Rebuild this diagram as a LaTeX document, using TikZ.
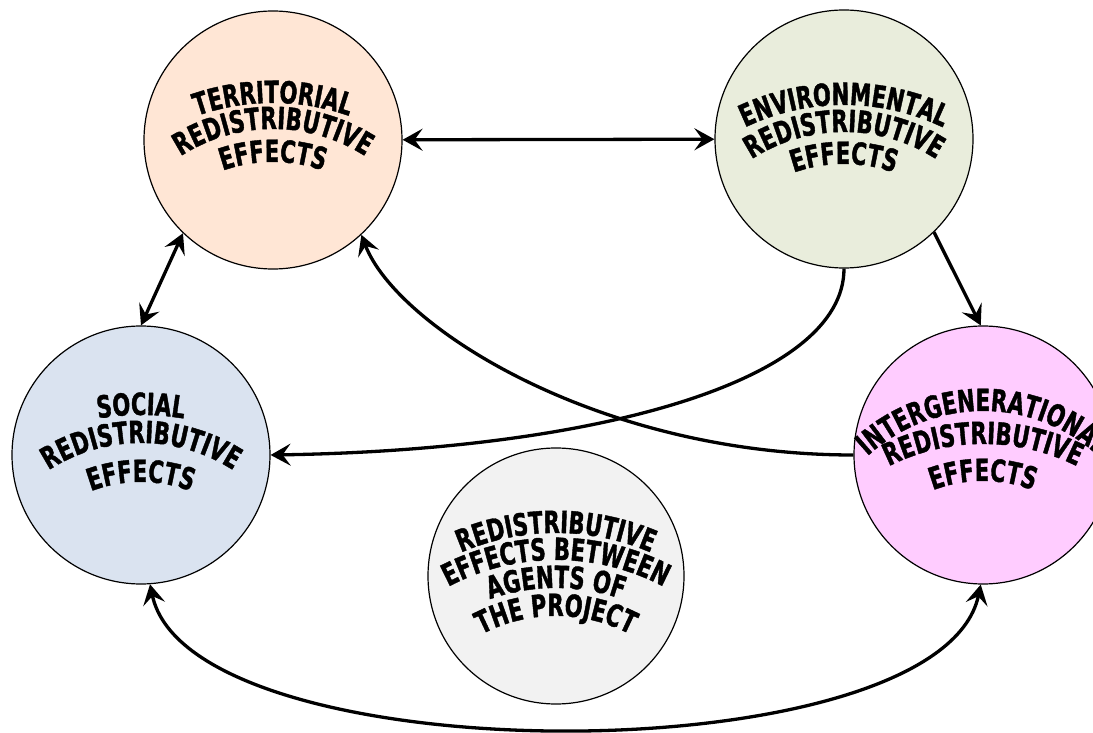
\documentclass[tikz,border=0pt]{standalone}
\usepackage{fontspec}
\newfontfamily\lblfam{DejaVu Sans Bold}[FakeStretch=0.69,FakeBold=1.3]
\usetikzlibrary{arrows.meta,calc,decorations.text}
\definecolor{cterr}{HTML}{FFE6D5}
\definecolor{cenv}{HTML}{E9EDDC}
\definecolor{csoc}{HTML}{DAE3F0}
\definecolor{cint}{HTML}{FFCCFF}
\definecolor{cagt}{HTML}{F2F2F2}
\newcommand{\lblfont}{\lblfam\fontsize{30.5}{34}\selectfont}
% #1 node, #2 apex offset (up), #3 radius, #4 text
\newcommand{\ArcLbl}[4]{%
  \path[decorate, decoration={text along path, text align=center, text={|\lblfont|#4}}]
    ($(#1)+(0,#2)+(0,-#3)+(165:#3)$) arc[start angle=165, end angle=15, radius=#3];
}
\tikzset{
  bub/.style={circle, draw=black, line width=1.2pt, minimum size=258pt, inner sep=0pt},
  conn/.style={line width=3.3pt, draw=black},
  >={Stealth[length=20pt,width=22pt,inset=8pt]},
}
\begin{document}
\begin{tikzpicture}[x=1pt,y=1pt]
\useasboundingbox (0,0) rectangle (1093,732);
\clip (0,0) rectangle (1093,732);
\fill[white] (0,0) rectangle (1093,732);
\node[bub, fill=cterr] (terr) at (273,592) {};
\node[bub, fill=cenv]  (env)  at (844,593) {};
\node[bub, fill=csoc]  (soc)  at (141,277) {};
\node[bub, fill=cint]  (inter) at (983,277) {};
\node[bub, fill=cagt, minimum size=256pt] (agt) at (556,156) {};

\ArcLbl{terr}{37}{230}{TERRITORIAL}
\ArcLbl{terr}{11}{170}{REDISTRIBUTIVE}
\ArcLbl{terr}{-22}{150}{EFFECTS}

\ArcLbl{env}{34}{230}{ENVIRONMENTAL}
\ArcLbl{env}{7}{170}{REDISTRIBUTIVE}
\ArcLbl{env}{-25}{150}{EFFECTS}

\ArcLbl{soc}{40}{260}{SOCIAL}
\ArcLbl{soc}{12}{170}{REDISTRIBUTIVE}
\ArcLbl{soc}{-27}{140}{EFFECTS}

\ArcLbl{inter}{44}{170}{INTERGENERATIONAL}
\ArcLbl{inter}{11}{210}{REDISTRIBUTIVE}
\ArcLbl{inter}{-26}{140}{EFFECTS}

\ArcLbl{agt}{43}{240}{REDISTRIBUTIVE}
\ArcLbl{agt}{16}{230}{EFFECTS BETWEEN}
\ArcLbl{agt}{-12}{200}{AGENTS OF}
\ArcLbl{agt}{-40}{160}{THE PROJECT}

\draw[conn, <->] (terr) -- (env);
\draw[conn, <->] (terr.226) -- (soc.90);
\draw[conn, ->] (env.314) -- (inter.91);
\draw[conn, ->] (env.270) .. controls +(0,-112) and +(328,5) .. (soc.0);
\draw[conn, ->] (inter.180) .. controls +(-255,0) and +(35,-92) .. (terr.313);
\draw[conn, <->] (soc.274) .. controls +(40,-192) and +(-40,-192) .. (inter.269);
\end{tikzpicture}
\end{document}
